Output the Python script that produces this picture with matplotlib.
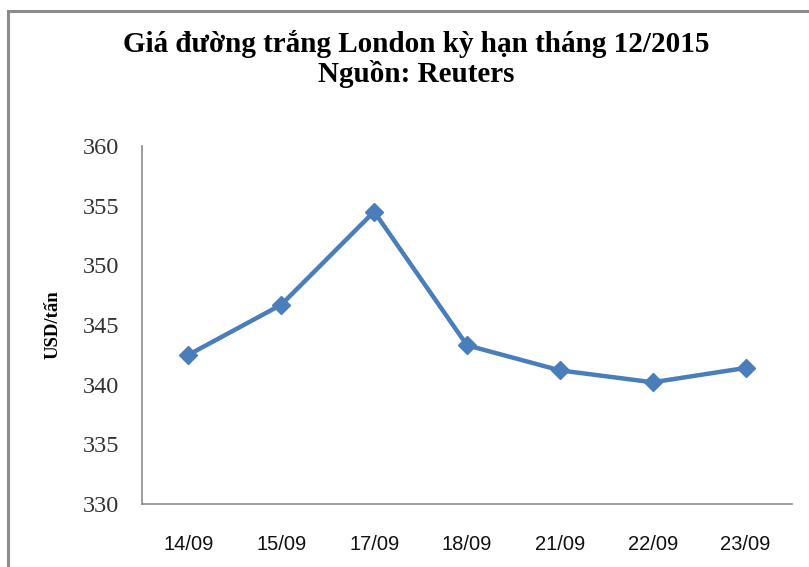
import matplotlib
matplotlib.use("Agg")
import matplotlib.pyplot as plt
from matplotlib.patches import Rectangle

dates = ["14/09", "15/09", "17/09", "18/09", "21/09", "22/09", "23/09"]
prices = [342.5, 346.7, 354.5, 343.3, 341.2, 340.2, 341.4]
y_ticks = [330, 335, 340, 345, 350, 355, 360]

W, H = 809, 567
fig = plt.figure(figsize=(W / 100, H / 100), dpi=100)
fig.patch.set_facecolor("white")

# chart-area frame (open to the right and bottom)
frame = Rectangle((8 / W, -0.05), 1.2, 1 - 10.5 / H + 0.05,
                  transform=fig.transFigure, fill=False,
                  edgecolor="#8c8c8c", linewidth=2.2, zorder=0)
fig.patches.append(frame)

ax = fig.add_axes([142 / W, (H - 504) / H, (792 - 142) / W, (504 - 146) / H])
x = list(range(len(dates)))
ax.plot(x, prices, color="#4a7ebb", linewidth=3.2, marker="D",
        markersize=9, markerfacecolor="#4a7ebb", markeredgecolor="#4a7ebb",
        solid_joinstyle="round", zorder=3)

ax.set_xlim(-0.5, len(dates) - 0.5)
ax.set_ylim(330, 360)
ax.set_yticks(y_ticks)
ax.set_yticklabels([str(v) for v in y_ticks], fontfamily="Liberation Serif",
                   fontsize=17.5, color="#333333")
ax.set_xticks(x)
ax.set_xticklabels(dates, fontfamily="Liberation Sans", fontsize=14.5,
                   color="#111111")
ax.tick_params(axis="y", length=0, pad=16.5)
ax.tick_params(axis="x", length=0, pad=22.5)

for side in ("top", "right"):
    ax.spines[side].set_visible(False)
for side in ("left", "bottom"):
    ax.spines[side].set_color("#8c8c8c")
    ax.spines[side].set_linewidth(1.2)

ax.set_ylabel("USD/tấn", fontfamily="Liberation Serif", fontweight="bold",
              fontsize=13.5)
ax.yaxis.set_label_coords(-80 / (792 - 142), 0.5)

fig.text(416 / W, 1 - 44 / H, "Giá đường trắng London kỳ hạn tháng 12/2015",
         ha="center", va="center", fontfamily="Liberation Serif",
         fontweight="bold", fontsize=21)
fig.text(416 / W, 1 - 74 / H, "Nguồn: Reuters",
         ha="center", va="center", fontfamily="Liberation Serif",
         fontweight="bold", fontsize=21)

fig.savefig("out.png", dpi=100)
